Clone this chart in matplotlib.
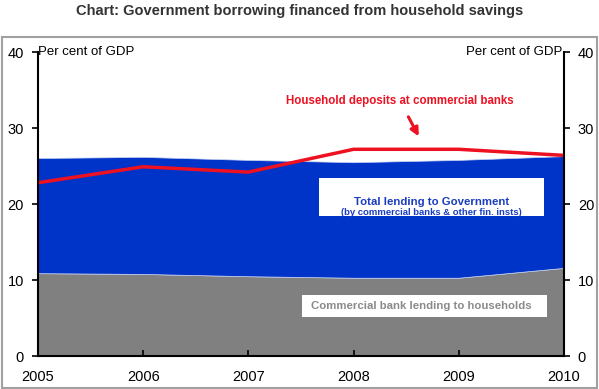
import matplotlib.pyplot as plt
from matplotlib.patches import Rectangle

years = [2005, 2006, 2007, 2008, 2009, 2010]
hh_lending = [10.9, 10.8, 10.5, 10.3, 10.3, 11.6]      # commercial bank lending to households
gov_lending = [15.15, 15.4, 15.3, 15.2, 15.5, 14.7]    # total lending to government (stacked on top)
hh_deposits = [22.8, 24.9, 24.2, 27.2, 27.2, 26.4]     # household deposits at commercial banks

plt.rcParams['font.family'] = ['Liberation Sans', 'DejaVu Sans']

fig = plt.figure(figsize=(5.99, 3.89), dpi=100)
fig.patches.append(Rectangle((0.003, 0.002), 0.993, 0.903, transform=fig.transFigure,
                             fill=False, edgecolor='#a0a0a0', linewidth=1.5))
fig.text(0.5, 0.972, 'Chart: Government borrowing financed from household savings',
         ha='center', va='center', fontsize=10.5, fontweight='bold', color='#333333')

ax = fig.add_axes([0.0634, 0.0848, 0.878, 0.7815])
ax.stackplot(years, hh_lending, gov_lending, colors=['#808080', '#0033c8'],
             edgecolor='#c8d4f0', linewidth=0.5)
ax.plot(years, hh_deposits, color='#ee1122', linewidth=2.5)

ax.set_xlim(2005, 2010)
ax.set_ylim(0, 40)
ax.set_xticks(years)
ax.set_yticks([0, 10, 20, 30, 40])
ax.spines['top'].set_visible(False)
for s in ['left', 'right', 'bottom']:
    ax.spines[s].set_linewidth(1.5)
ax.tick_params(axis='y', direction='out', length=4, width=1.2, labelsize=10.5, pad=6,
               left=True, right=True, labelleft=True, labelright=True)
ax.tick_params(axis='x', direction='in', length=4, width=1.2, labelsize=10.5, pad=10)

ax.text(0.0, 1.0, 'Per cent of GDP', transform=ax.transAxes, ha='left', va='center',
        fontsize=9.5)
ax.text(0.997, 1.0, 'Per cent of GDP', transform=ax.transAxes, ha='right', va='center',
        fontsize=9.5)

ax.annotate('Household deposits at commercial banks', xy=(2008.62, 28.9),
            xytext=(2008.44, 33.6), ha='center', va='center', fontsize=8.3,
            fontweight='bold', color='#ee1122',
            arrowprops=dict(arrowstyle='-|>', color='#ee1122', lw=2.2,
                            mutation_scale=12, shrinkA=6, shrinkB=0))

ax.text(2008.74, 20.3, 'Total lending to Government', ha='center', va='center',
        fontsize=8.2, fontweight='bold', color='#1a3cc0', zorder=5)
ax.text(2008.74, 18.9, '(by commercial banks & other fin. insts)', ha='center',
        va='center', fontsize=6.8, fontweight='bold', color='#1a3cc0', zorder=5)
ax.add_patch(Rectangle((2007.67, 18.4), 2.14, 5.0, facecolor='white',
                       edgecolor='none', zorder=4))

ax.text(2008.64, 6.55, 'Commercial bank lending to households', ha='center',
        va='center', fontsize=8.2, fontweight='bold', color='#8a8a8a', zorder=5)
ax.add_patch(Rectangle((2007.51, 5.1), 2.33, 2.9, facecolor='white',
                       edgecolor='none', zorder=4))

fig.savefig('out.png', dpi=100)
